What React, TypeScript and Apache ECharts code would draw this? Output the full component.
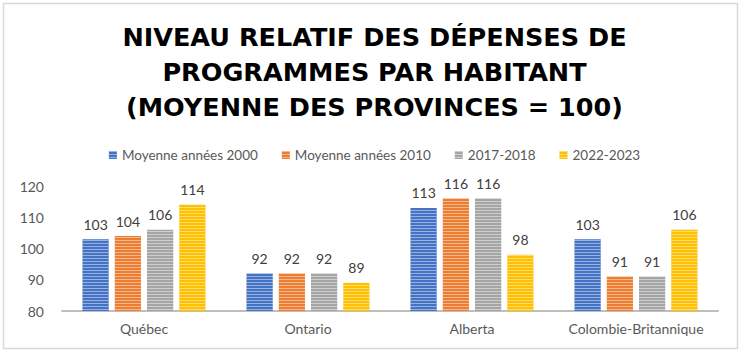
import React, { useEffect, useRef } from "react";
import * as echarts from "echarts";

const categories = ["Québec", "Ontario", "Alberta", "Colombie-Britannique"];
const seriesNames = ["Moyenne années 2000", "Moyenne années 2010", "2017-2018", "2022-2023"];
const avg2000 = [103, 92, 113, 103];
const avg2010 = [104, 92, 116, 91];
const y2017 = [106, 92, 116, 91];
const y2022 = [114, 89, 98, 106];
const colors = ["#4472C4", "#ED7D31", "#A5A5A5", "#FFC000"];
const titleLines = [
  "NIVEAU RELATIF DES DÉPENSES DE",
  "PROGRAMMES PAR HABITANT",
  "(MOYENNE DES PROVINCES = 100)",
];

const bodyFont = "Lato, sans-serif";

export default function App() {
  const ref = useRef<HTMLDivElement>(null);
  useEffect(() => {
    document.body.style.margin = "0";
    const chart = echarts.init(ref.current!, undefined, { renderer: "svg" });
    const data = [avg2000, avg2010, y2017, y2022];
    chart.setOption({
      animation: false,
      backgroundColor: "#ffffff",
      textStyle: { fontFamily: bodyFont },
      title: {
        text: titleLines.join("\n"),
        left: "center",
        top: 14,
        textStyle: {
          fontFamily: "DejaVu Sans",
          fontWeight: "bold",
          fontSize: 25.5,
          lineHeight: 35,
          color: "#000000",
        },
      },
      legend: {
        top: 143,
        left: "center",
        itemWidth: 8,
        itemHeight: 8,
        itemGap: 24,
        icon: "rect",
        textStyle: { fontSize: 13.5, color: "#595959", fontFamily: bodyFont },
        data: seriesNames,
      },
      grid: { left: 62, right: 31, top: 186, bottom: 45 },
      xAxis: {
        type: "category",
        data: categories,
        axisLine: { lineStyle: { color: "#bfbfbf", width: 2 } },
        axisTick: { show: false },
        axisLabel: { fontSize: 14, color: "#595959", margin: 10, interval: 0, fontFamily: bodyFont },
      },
      yAxis: {
        type: "value",
        min: 80,
        max: 120,
        interval: 10,
        splitLine: { show: false },
        axisLine: { show: false },
        axisTick: { show: false },
        axisLabel: { fontSize: 14, color: "#595959", margin: 18, fontFamily: bodyFont },
      },
      series: seriesNames.map((name, i) => ({
        name,
        type: "bar",
        data: data[i],
        barGap: "23%",
        barCategoryGap: "25%",
        itemStyle: {
          color: colors[i],
          decal: {
            symbol: "rect",
            symbolSize: 1,
            dashArrayX: [1, 0],
            dashArrayY: [1, 2],
            color: "rgba(255,255,255,0.45)",
            rotation: 0,
          },
        },
        label: {
          show: true,
          position: "top",
          distance: 8,
          fontSize: 14,
          color: "#404040",
          fontFamily: bodyFont,
        },
      })),
      graphic: [
        {
          type: "rect",
          shape: { x: 3.5, y: 3.5, width: 734, height: 345 },
          style: { fill: "none", stroke: "#d9d9d9", lineWidth: 1.5 },
          silent: true,
          z: -1,
        },
      ],
    });
    return () => chart.dispose();
  }, []);
  return <div ref={ref} style={{ width: 749, height: 356 }} />;
}
